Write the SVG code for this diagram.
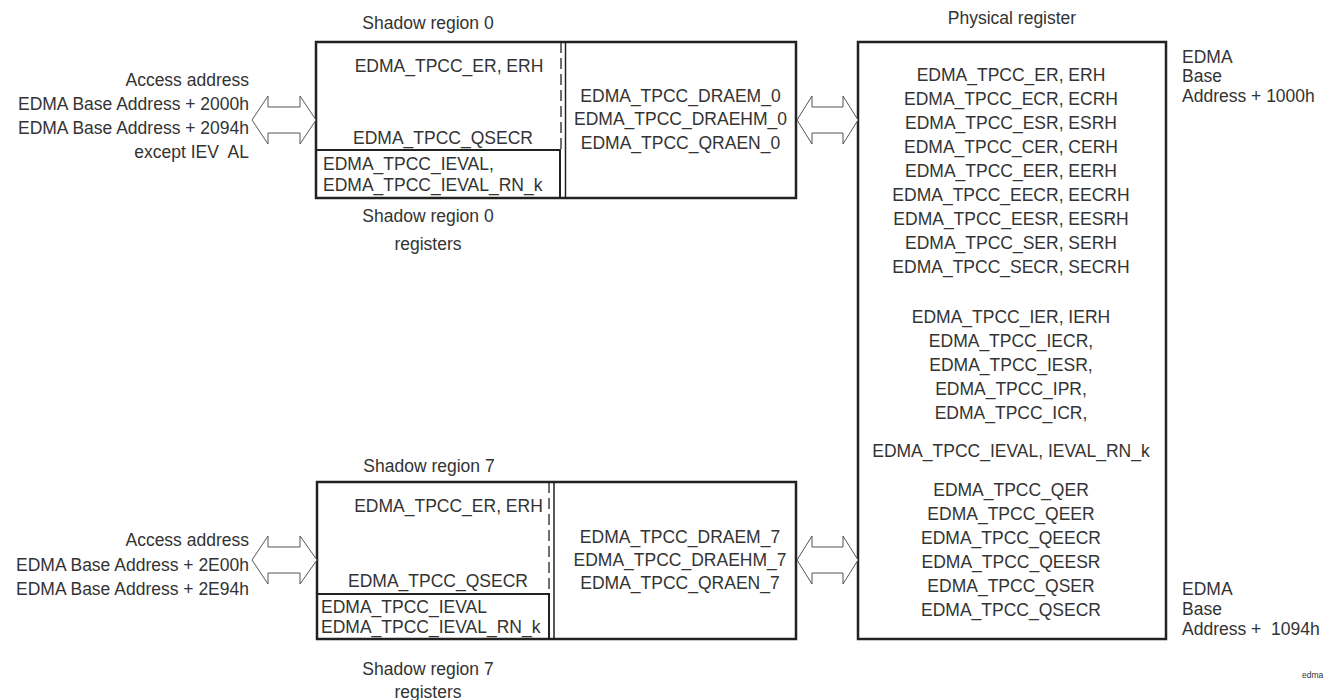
<svg xmlns="http://www.w3.org/2000/svg" width="1324" height="700" viewBox="0 0 1324 700">
<style>
text{font-family:"Liberation Sans",Arial,sans-serif;font-size:17.5px;fill:#333;}
.c{text-anchor:middle;}
.e{text-anchor:end;}
.box{fill:none;stroke:#222;stroke-width:2.5;}
.inner{fill:none;stroke:#222;stroke-width:2;}
.div{stroke:#222;stroke-width:1.5;fill:none;}
.dash{stroke:#222;stroke-width:1.3;stroke-dasharray:11 5;fill:none;}
.arrow{fill:#fff;stroke:#555;stroke-width:1;}
.small{font-size:8.5px;fill:#333;}
</style>
<rect width="1324" height="700" fill="#fff"/>

<g id="access0">
<text class="e" x="249" y="86">Access address</text>
<text class="e" x="249" y="110">EDMA Base Address + 2000h</text>
<text class="e" x="249" y="134">EDMA Base Address + 2094h</text>
<text class="e" x="249" y="158" xml:space="preserve">except IEV  AL</text>
</g>

<g id="shadow0">
<text class="c" x="428" y="29">Shadow region 0</text>
<rect class="box" x="316" y="42" width="480" height="156"/>
<line class="dash" x1="561" y1="42" x2="561" y2="150"/>
<line class="div" x1="565.5" y1="42" x2="565.5" y2="198"/>
<rect class="inner" x="316" y="150" width="244" height="48"/>
<text class="c" x="449" y="72">EDMA_TPCC_ER, ERH</text>
<text class="c" x="443" y="144">EDMA_TPCC_QSECR</text>
<text x="323" y="170">EDMA_TPCC_IEVAL,</text>
<text x="323" y="191">EDMA_TPCC_IEVAL_RN_k</text>
<text class="c" x="680.5" y="102">EDMA_TPCC_DRAEM_0</text>
<text class="c" x="680.5" y="125">EDMA_TPCC_DRAEHM_0</text>
<text class="c" x="680.5" y="149">EDMA_TPCC_QRAEN_0</text>
<text class="c" x="428" y="222">Shadow region 0</text>
<text class="c" x="428" y="250">registers</text>
</g>

<g id="access7">
<text class="e" x="249" y="546">Access address</text>
<text class="e" x="249" y="571">EDMA Base Address + 2E00h</text>
<text class="e" x="249" y="595">EDMA Base Address + 2E94h</text>
</g>

<g id="shadow7">
<text class="c" x="429" y="472">Shadow region 7</text>
<rect class="box" x="317" y="482" width="479" height="157"/>
<line class="dash" x1="549" y1="482" x2="549" y2="594"/>
<line class="div" x1="554" y1="482" x2="554" y2="639"/>
<rect class="inner" x="317" y="594" width="232" height="45"/>
<text class="c" x="448.5" y="512">EDMA_TPCC_ER, ERH</text>
<text class="c" x="438" y="587">EDMA_TPCC_QSECR</text>
<text x="321" y="613">EDMA_TPCC_IEVAL</text>
<text x="321" y="633">EDMA_TPCC_IEVAL_RN_k</text>
<text class="c" x="680" y="543">EDMA_TPCC_DRAEM_7</text>
<text class="c" x="680" y="566">EDMA_TPCC_DRAEHM_7</text>
<text class="c" x="680" y="589">EDMA_TPCC_QRAEN_7</text>
<text class="c" x="428" y="675">Shadow region 7</text>
<text class="c" x="428" y="698">registers</text>
</g>

<g id="physical">
<text class="c" x="1012" y="24">Physical register</text>
<rect class="box" x="858" y="42" width="308" height="597" stroke-width="3"/>
<text class="c" x="1011" y="81">EDMA_TPCC_ER, ERH</text>
<text class="c" x="1011" y="105">EDMA_TPCC_ECR, ECRH</text>
<text class="c" x="1011" y="129">EDMA_TPCC_ESR, ESRH</text>
<text class="c" x="1011" y="153">EDMA_TPCC_CER, CERH</text>
<text class="c" x="1011" y="177">EDMA_TPCC_EER, EERH</text>
<text class="c" x="1011" y="201">EDMA_TPCC_EECR, EECRH</text>
<text class="c" x="1011" y="225">EDMA_TPCC_EESR, EESRH</text>
<text class="c" x="1011" y="249">EDMA_TPCC_SER, SERH</text>
<text class="c" x="1011" y="273">EDMA_TPCC_SECR, SECRH</text>
<text class="c" x="1011" y="323">EDMA_TPCC_IER, IERH</text>
<text class="c" x="1011" y="347">EDMA_TPCC_IECR,</text>
<text class="c" x="1011" y="371">EDMA_TPCC_IESR,</text>
<text class="c" x="1011" y="395">EDMA_TPCC_IPR,</text>
<text class="c" x="1011" y="419">EDMA_TPCC_ICR,</text>
<text class="c" x="1011" y="457">EDMA_TPCC_IEVAL, IEVAL_RN_k</text>
<text class="c" x="1011" y="496">EDMA_TPCC_QER</text>
<text class="c" x="1011" y="520">EDMA_TPCC_QEER</text>
<text class="c" x="1011" y="544">EDMA_TPCC_QEECR</text>
<text class="c" x="1011" y="568">EDMA_TPCC_QEESR</text>
<text class="c" x="1011" y="592">EDMA_TPCC_QSER</text>
<text class="c" x="1011" y="616">EDMA_TPCC_QSECR</text>
</g>

<g id="base-labels">
<text x="1182" y="63">EDMA</text>
<text x="1182" y="82">Base</text>
<text x="1182" y="102">Address + 1000h</text>
<text x="1182" y="595">EDMA</text>
<text x="1182" y="615">Base</text>
<text x="1182" y="635" xml:space="preserve">Address +  1094h</text>
<text class="small" x="1302" y="678">edma</text>
</g>

<g id="connectors">
<path class="arrow" d="M252,120 L268,96 L268,107 L300,107 L300,96 L316,120 L300,144 L300,133 L268,133 L268,144 Z"/>
<path class="arrow" d="M797,120 L812,96 L812,107 L843,107 L843,96 L858,120 L843,144 L843,133 L812,133 L812,144 Z"/>
<path class="arrow" d="M252,560 L268,536 L268,547 L300,547 L300,536 L317,560 L300,584 L300,573 L268,573 L268,584 Z"/>
<path class="arrow" d="M797,560 L812,536 L812,547 L843,547 L843,536 L858,560 L843,584 L843,573 L812,573 L812,584 Z"/>
</g>
</svg>
